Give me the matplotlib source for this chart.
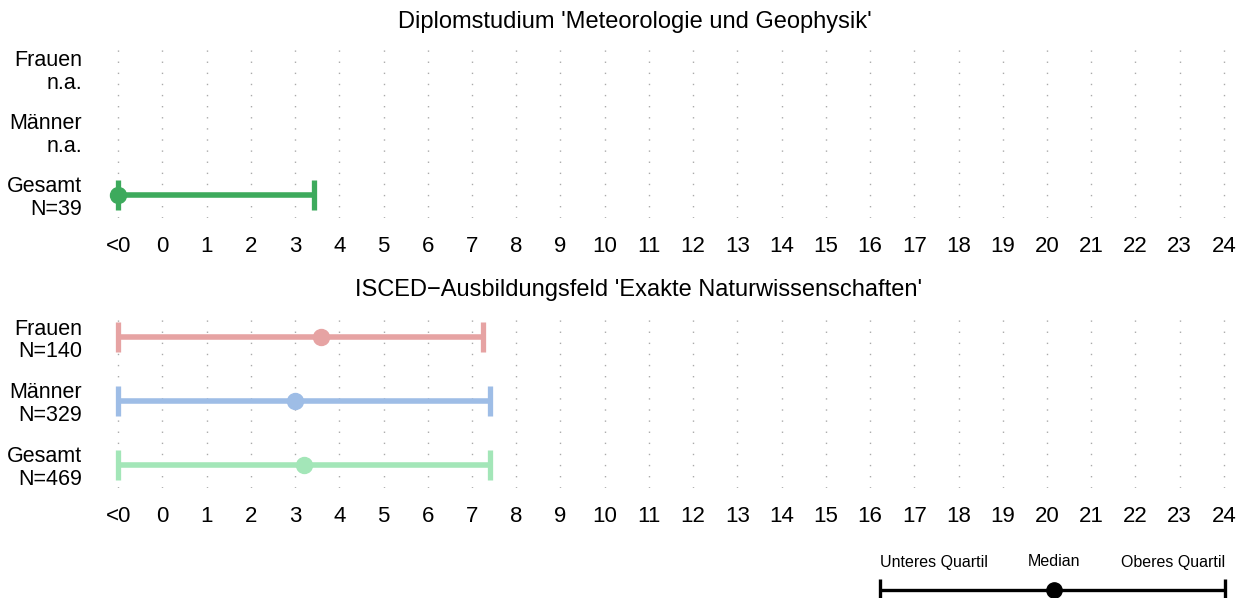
import matplotlib
matplotlib.use('Agg')
import matplotlib.pyplot as plt
import numpy as np

# ── Data ─────────────────────────────────────────────────────────────────────
TICK_VALUES = list(range(-1, 25))
TICK_LABELS = ['<0'] + [str(i) for i in range(0, 25)]

TITLE_TOP = "Diplomstudium 'Meteorologie und Geophysik'"
LABELS_TOP = ['Frauen\nn.a.', 'Männer\nn.a.', 'Gesamt\nN=39']
LOWER_TOP = [np.nan, np.nan, -1]
MEDIAN_TOP = [np.nan, np.nan, -1]
UPPER_TOP = [np.nan, np.nan, 3.43]
COLORS_TOP = ['#E6A3A3', '#9EBDE6', '#3DAA5C']

TITLE_BOT = "ISCED\u2212Ausbildungsfeld 'Exakte Naturwissenschaften'"
LABELS_BOT = ['Frauen\nN=140', 'Männer\nN=329', 'Gesamt\nN=469']
LOWER_BOT = [-1, -1, -1]
MEDIAN_BOT = [3.59, 3.0, 3.2]
UPPER_BOT = [7.25, 7.41, 7.41]
COLORS_BOT = ['#E6A3A3', '#9EBDE6', '#A3E6B8']

W, H = 1250, 598
fig = plt.figure(figsize=(W / 100, H / 100), dpi=100)
plt.rcParams['font.family'] = ['Liberation Sans', 'DejaVu Sans']


def px_axes(x0, x1, y0, y1):
    # pixel box (from top-left) -> figure fraction
    return fig.add_axes([x0 / W, 1 - y1 / H, (x1 - x0) / W, (y1 - y0) / H])


def draw_panel(ax, labels, lower, median, upper, colors):
    ypos = [3, 2, 1]
    for xv in TICK_VALUES:
        ax.axvline(xv, color='#AAAAAA', lw=1.0, ls=(0, (1, 7)), zorder=0)
    for y, lo, md, hi, c in zip(ypos, lower, median, upper, colors):
        if np.isnan(lo):
            continue
        ax.plot([lo, hi], [y, y], color=c, lw=4.0, solid_capstyle='butt', zorder=2)
        ax.plot([lo, hi], [y, y], ls='none', marker='|', markersize=22,
                markeredgewidth=3.8, color=c, zorder=2)
        ax.plot([md], [y], ls='none', marker='o', markersize=11.5, color=c, zorder=3)
    ax.set_xlim(-1.5, 24.5)
    ax.set_ylim(0.635, 3.38)
    ax.set_xticks(TICK_VALUES)
    ax.set_xticklabels(TICK_LABELS, fontsize=16)
    ax.set_yticks(ypos)
    ax.set_yticklabels(labels, fontsize=15.5, linespacing=1.1)
    ax.tick_params(length=0, axis='x', pad=13)
    ax.tick_params(length=0, axis='y', pad=10)
    for s in ax.spines.values():
        s.set_visible(False)


ax1 = px_axes(96, 1246, 45, 218)
draw_panel(ax1, LABELS_TOP, LOWER_TOP, MEDIAN_TOP, UPPER_TOP, COLORS_TOP)
fig.text(635 / W, 1 - 22 / H, TITLE_TOP, ha='center', va='center', fontsize=17)

ax2 = px_axes(96, 1246, 313, 488)
draw_panel(ax2, LABELS_BOT, LOWER_BOT, MEDIAN_BOT, UPPER_BOT, COLORS_BOT)
fig.text(639 / W, 1 - 290 / H, TITLE_BOT, ha='center', va='center', fontsize=17)

# ── Legend (bottom right) ────────────────────────────────────────────────────
lax = px_axes(880, 1225, 540, 598)
lax.set_xlim(0, 1)
lax.set_ylim(0, 58)
lax.axis('off')
ly = 8
lax.plot([0, 1], [ly, ly], color='black', lw=2.4, solid_capstyle='butt', clip_on=False)
lax.plot([0, 1], [ly, ly], ls='none', marker='|', markersize=16,
         markeredgewidth=2.4, color='black', clip_on=False)
lax.plot([0.505], [ly], ls='none', marker='o', markersize=11, color='black', clip_on=False)
lax.text(0.0, 36, 'Unteres Quartil', ha='left', va='center', fontsize=11.5)
lax.text(0.505, 36, 'Median', ha='center', va='center', fontsize=11.5)
lax.text(1.0, 36, 'Oberes Quartil', ha='right', va='center', fontsize=11.5)

fig.savefig('out.png', dpi=100, facecolor='white')
